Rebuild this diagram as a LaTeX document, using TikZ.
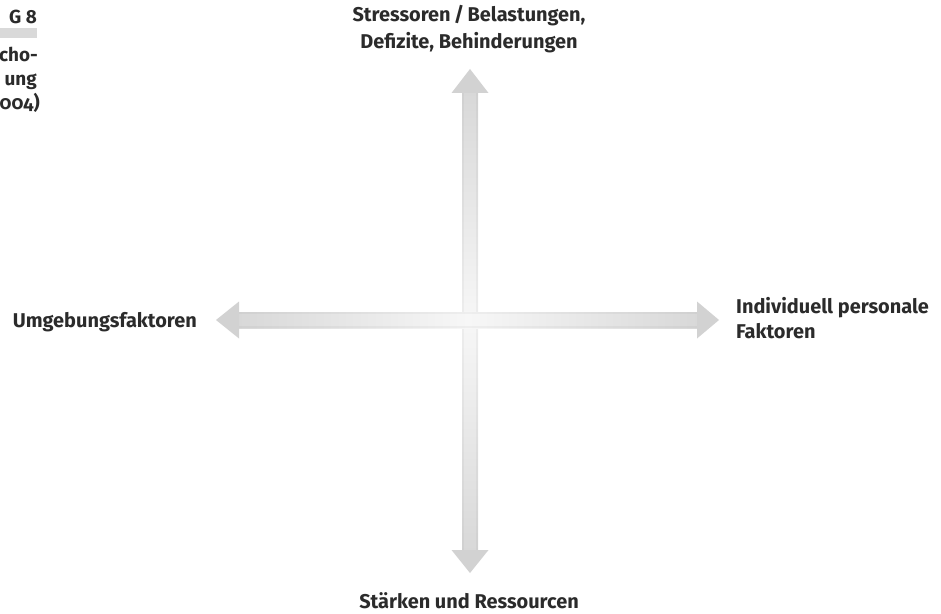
\documentclass[tikz,border=0pt]{standalone}
\usepackage{fontspec}
\setmainfont{Fira Sans}
\usetikzlibrary{calc}
\definecolor{txt}{HTML}{2B2B2B}
\definecolor{arrowgray}{HTML}{D2D2D2}
\definecolor{shaftend}{HTML}{D8D8D8}
\definecolor{shaftmid}{HTML}{F7F7F7}
\definecolor{barcol}{HTML}{D9D9D9}
\begin{document}
\begin{tikzpicture}[x=1bp,y=-1bp,
  lbl/.style={font=\fontsize{20}{26}\selectfont\bfseries, text=txt, inner sep=0pt},
  side/.style={font=\fontsize{19}{24}\selectfont\bfseries, text=txt, inner sep=0pt},
  headfill/.style={fill=arrowgray, draw=none},
  edge/.style={fill=black, opacity=0.035, draw=none}]
\useasboundingbox (0,0) rectangle (941,614);
\fill[white] (0,0) rectangle (941,614);
% coordinates
\coordinate (vt) at (470,69);
\coordinate (vb) at (470,573);
\coordinate (hl) at (216,320);
\coordinate (hr) at (719,320);
% vertical arrow
\shade[top color=shaftend, bottom color=shaftend, middle color=shaftmid]
  (462,92) rectangle (478,551);
\fill[edge] (462,92) rectangle (464,551);
\fill[edge] (476,92) rectangle (478,551);
\fill[headfill] (vt) -- (488.5,93) -- (451.5,93) -- cycle;
\fill[headfill] (vb) -- (488.5,550) -- (451.5,550) -- cycle;
% horizontal arrow
\shade[left color=shaftend, right color=shaftend, middle color=shaftmid]
  (238,312) rectangle (698,328);
\fill[edge] (238,312) rectangle (698,314);
\fill[edge] (238,326) rectangle (698,328);
\fill[headfill] (hl) -- (239,301.5) -- (239,338.5) -- cycle;
\fill[headfill] (hr) -- (697,301.5) -- (697,338.5) -- cycle;
% labels
\node[lbl, anchor=base] (top1) at (469,22) {Stressoren\,/\,Belastungen,};
\node[lbl, anchor=base] (top2) at (469,49) {Defizite, Behinderungen};
\node[lbl, anchor=base] (bottom) at (469,608) {Stärken und Ressourcen};
\node[lbl, anchor=base east] (left) at (197,327) {Umgebungsfaktoren};
\node[lbl, anchor=base west] (right1) at (736,313) {Individuell personale};
\node[lbl, anchor=base west] (right2) at (736,338) {Faktoren};
% partial side caption
\fill[barcol] (0,28) rectangle (37,38);
\node[side, anchor=base east] (fig) at (37,24) {G 8};
\node[side, anchor=base east] (c1) at (38,62) {cho-};
\node[side, anchor=base east] (c2) at (37,86) {ung};
\node[side, anchor=base east] (c3) at (40,110) {\addfontfeatures{Numbers=OldStyle}004)};
\end{tikzpicture}
\end{document}
